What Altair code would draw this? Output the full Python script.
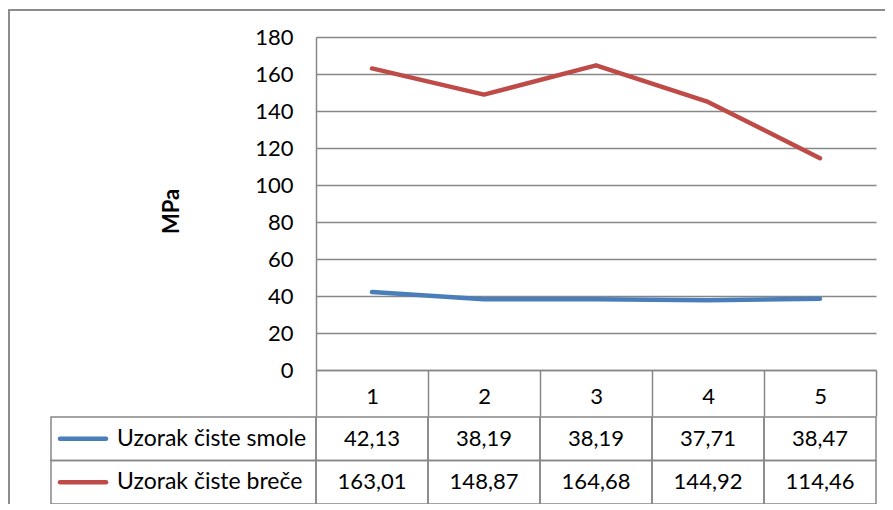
import altair as alt
import pandas as pd

categories = [1, 2, 3, 4, 5]
series_names = ["Uzorak čiste smole", "Uzorak čiste breče"]
smola = [42.13, 38.19, 38.19, 37.71, 38.47]
breca = [163.01, 148.87, 164.68, 144.92, 114.46]
series_colors = ["#4A7EBB", "#BE4B48"]
y_ticks = [0, 20, 40, 60, 80, 100, 120, 140, 160, 180]

rows = []
for name, vals in zip(series_names, [smola, breca]):
    for c, v in zip(categories, vals):
        rows.append({"series": name, "cat": c, "value": v,
                     "label": f"{v:.2f}".replace(".", ",")})
df = pd.DataFrame(rows)
legend_df = pd.DataFrame({"series": series_names})

FONT = "Lato"
FS = 22
GRID = "#878787"

x_axis = alt.Axis(title=None, labelAngle=0, tickBand="extent", tickSize=46,
                  tickColor=GRID, tickWidth=1.5, domainColor=GRID, domainWidth=1.5,
                  labelFont=FONT, labelFontSize=FS, labelColor="black",
                  labelBaseline="middle", labelPadding=-20, grid=False)
x_scale = alt.Scale(type="band", paddingInner=0, paddingOuter=0)
color_enc = alt.Color("series:N", scale=alt.Scale(domain=series_names, range=series_colors),
                      legend=None)

lines = alt.Chart(df).mark_line(strokeWidth=4.5, strokeCap="round", strokeJoin="round").encode(
    x=alt.X("cat:O", scale=x_scale, axis=x_axis),
    y=alt.Y("value:Q", scale=alt.Scale(domain=[0, 180], nice=False),
            axis=alt.Axis(values=y_ticks, title="MPa", grid=True, gridColor=GRID,
                          gridWidth=1.5, ticks=False, domainColor=GRID, domainWidth=1.5,
                          labelPadding=23, labelFont=FONT, labelFontSize=FS,
                          labelColor="black", titleFont=FONT, titleFontSize=FS,
                          titleFontWeight="bold", titleAngle=270, titleX=-145,
                          titleY=174, titleAlign="center", titleBaseline="middle",
                          titleColor="black")),
    color=color_enc,
)

row_y = alt.Y("series:N", scale=alt.Scale(type="band", domain=series_names,
                                          range=[380, 467], paddingInner=0,
                                          paddingOuter=0), axis=None)
row_y_c = alt.Y("series:N", bandPosition=0.5)

cells = alt.Chart(df).mark_rect(fillOpacity=0, stroke=GRID, strokeWidth=1.5).encode(
    x=alt.X("cat:O"), y=row_y)

values = alt.Chart(df).mark_text(font=FONT, fontSize=FS, color="black",
                                 align="center", baseline="middle").encode(
    x=alt.X("cat:O", bandPosition=0.5), y=row_y_c, text="label:N")

leg_cells = alt.Chart(legend_df).mark_rect(fillOpacity=0, stroke=GRID, strokeWidth=1.5).encode(
    x=alt.value(-265), x2=alt.value(0), y=alt.Y("series:N"))

leg_sym = alt.Chart(legend_df).mark_rule(strokeWidth=4.5, strokeCap="round").encode(
    x=alt.value(-256), x2=alt.value(-210), y=row_y_c, color=color_enc)

leg_text = alt.Chart(legend_df).mark_text(font=FONT, fontSize=23, color="black",
                                          align="left", baseline="middle").encode(
    x=alt.value(-199), y=row_y_c, text="series:N")

frame_top = alt.Chart(legend_df).mark_rule(color="#8c8c8c", strokeWidth=2).encode(
    x=alt.value(-308), x2=alt.value(600), y=alt.value(-27))
frame_left = alt.Chart(legend_df).mark_rule(color="#8c8c8c", strokeWidth=2).encode(
    x=alt.value(-307), y=alt.value(-27), y2=alt.value(520))

table = alt.layer(cells, values, leg_cells, leg_sym, leg_text)

chart = alt.layer(lines, table, frame_top, frame_left).resolve_scale(
    y="independent"
).properties(
    width=560, height=333,
    padding={"left": 308, "top": 29, "right": 9, "bottom": 134},
    autosize=alt.AutoSizeParams(type="none"),
).configure_view(stroke=None)

chart.save("out.html", embed_options={"renderer": "svg", "actions": False})
